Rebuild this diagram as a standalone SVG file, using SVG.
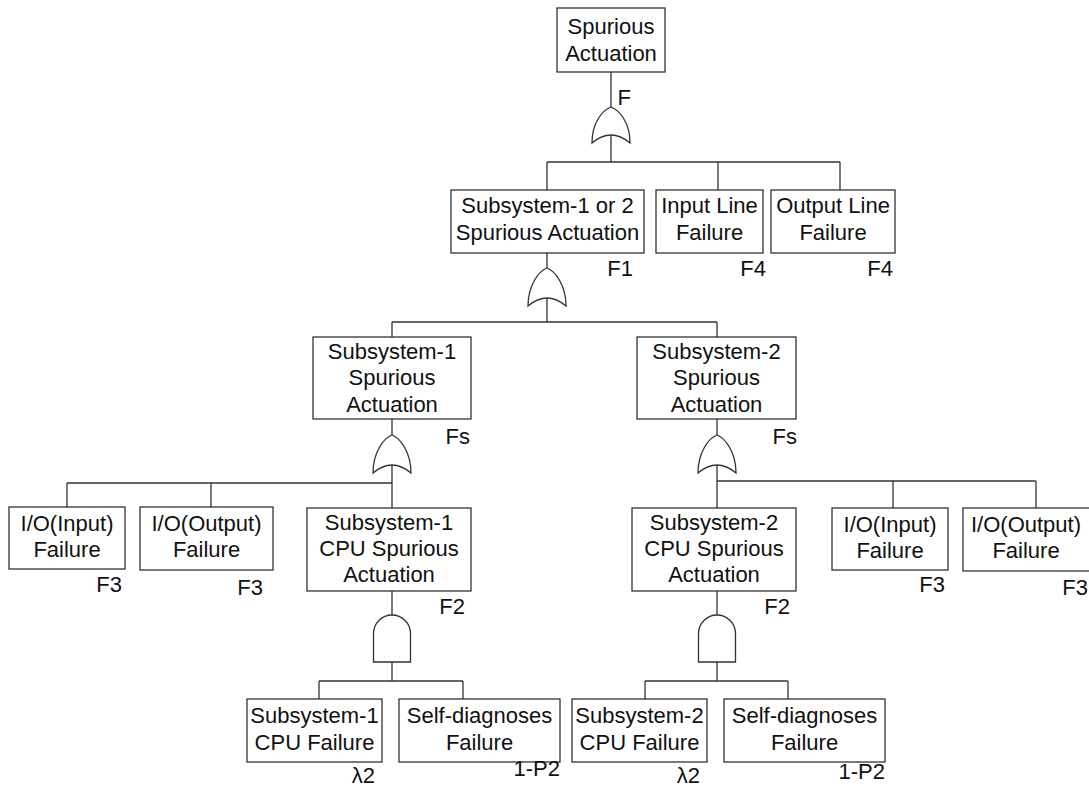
<svg xmlns="http://www.w3.org/2000/svg" width="1089" height="788" viewBox="0 0 1089 788">
<defs>
<style>
.box{fill:#fff;stroke:#333;stroke-width:1.3}
.gate{fill:#fff;stroke:#333;stroke-width:1.3}
.t{font-family:"Liberation Sans",Arial,sans-serif;font-size:22px;fill:#111;text-anchor:middle}
.l{font-family:"Liberation Sans",Arial,sans-serif;font-size:22px;fill:#111;text-anchor:end}
#connectors path{fill:none;stroke:#333;stroke-width:1.3}
</style>
</defs>
<rect width="1089" height="788" fill="#fff"/>
<g id="connectors">
<path d="M611,72V107M611,135V162M547,162H840M547,162V190M718,162V190M840,162V190"/>
<path d="M547,253V268M547,298V322M392,322H717M392,322V337M717,322V337"/>
<path d="M392,419V435M392,465V508M67,483H392M67,483V507M211,483V507"/>
<path d="M717,419V435M717,465V508M717,481H1036M893,481V508M1036,481V508"/>
<path d="M392,591V615M392,662V681M319,681H463M319,681V699M463,681V699"/>
<path d="M717,591V615M717,662V681M645,681H788M645,681V699M788,681V699"/>
</g>
<g id="gate-or-top"><path class="gate" d="M592,143C592,122 603,110 611,107C619,110 630,122 630,143Q611,127 592,143Z"/></g>
<g id="gate-or-f1"><path class="gate" d="M528,306C528,285 539,271 547,268C555,271 566,285 566,306Q547,290 528,306Z"/></g>
<g id="gate-or-s1"><path class="gate" d="M373,473C373,452 384,438 392,435C400,438 411,452 411,473Q392,457 373,473Z"/></g>
<g id="gate-or-s2"><path class="gate" d="M698,473C698,452 709,438 717,435C725,438 736,452 736,473Q717,457 698,473Z"/></g>
<g id="gate-and-s1"><path class="gate" d="M373.5,662V633.5A18.5,18.5 0 0 1 410.5,633.5V662Z"/></g>
<g id="gate-and-s2"><path class="gate" d="M698.5,662V633.5A18.5,18.5 0 0 1 735.5,633.5V662Z"/></g>
<g id="top">
<rect class="box" x="557" y="8" width="108" height="64"/>
<text class="t" x="611" y="34">Spurious</text>
<text class="t" x="611" y="61">Actuation</text>
<text class="l" x="631" y="105">F</text>
</g>
<g id="f1">
<rect class="box" x="451" y="190" width="193" height="63"/>
<text class="t" x="547.5" y="213">Subsystem-1 or 2</text>
<text class="t" x="547.5" y="240">Spurious Actuation</text>
<text class="l" x="633" y="276">F1</text>
</g>
<g id="input-line">
<rect class="box" x="656" y="190" width="107" height="63"/>
<text class="t" x="709.5" y="213">Input Line</text>
<text class="t" x="709.5" y="240">Failure</text>
<text class="l" x="766" y="276">F4</text>
</g>
<g id="output-line">
<rect class="box" x="771" y="190" width="124" height="63"/>
<text class="t" x="833" y="213">Output Line</text>
<text class="t" x="833" y="240">Failure</text>
<text class="l" x="893" y="276">F4</text>
</g>
<g id="s1">
<rect class="box" x="313" y="337" width="158" height="82"/>
<text class="t" x="392" y="359">Subsystem-1</text>
<text class="t" x="392" y="385">Spurious</text>
<text class="t" x="392" y="412">Actuation</text>
<text class="l" x="470" y="444">Fs</text>
</g>
<g id="s2">
<rect class="box" x="637" y="337" width="159" height="82"/>
<text class="t" x="716.5" y="359">Subsystem-2</text>
<text class="t" x="716.5" y="385">Spurious</text>
<text class="t" x="716.5" y="412">Actuation</text>
<text class="l" x="797" y="444">Fs</text>
</g>
<g id="s1-io-in">
<rect class="box" x="9" y="507" width="116" height="62"/>
<text class="t" x="67" y="531">I/O(Input)</text>
<text class="t" x="67" y="557">Failure</text>
<text class="l" x="122" y="592">F3</text>
</g>
<g id="s1-io-out">
<rect class="box" x="140" y="507" width="133" height="63"/>
<text class="t" x="206.5" y="531">I/O(Output)</text>
<text class="t" x="206.5" y="557">Failure</text>
<text class="l" x="263" y="595">F3</text>
</g>
<g id="s1-cpu">
<rect class="box" x="307" y="508" width="164" height="83"/>
<text class="t" x="389" y="530">Subsystem-1</text>
<text class="t" x="389" y="556">CPU Spurious</text>
<text class="t" x="389" y="582">Actuation</text>
<text class="l" x="465" y="614">F2</text>
</g>
<g id="s2-cpu">
<rect class="box" x="632" y="508" width="164" height="83"/>
<text class="t" x="714" y="530">Subsystem-2</text>
<text class="t" x="714" y="556">CPU Spurious</text>
<text class="t" x="714" y="582">Actuation</text>
<text class="l" x="790" y="614">F2</text>
</g>
<g id="s2-io-in">
<rect class="box" x="832" y="508" width="116" height="62"/>
<text class="t" x="890" y="532">I/O(Input)</text>
<text class="t" x="890" y="558">Failure</text>
<text class="l" x="945" y="592">F3</text>
</g>
<g id="s2-io-out">
<rect class="box" x="963" y="508" width="133" height="63"/>
<text class="t" x="1026" y="532">I/O(Output)</text>
<text class="t" x="1026" y="558">Failure</text>
<text class="l" x="1088" y="595">F3</text>
</g>
<g id="s1-cpu-fail">
<rect class="box" x="247" y="699" width="135" height="63"/>
<text class="t" x="314.5" y="723">Subsystem-1</text>
<text class="t" x="314.5" y="750">CPU Failure</text>
<text class="l" x="375" y="783">λ2</text>
</g>
<g id="s1-self">
<rect class="box" x="399" y="699" width="161" height="63"/>
<text class="t" x="479.5" y="723">Self-diagnoses</text>
<text class="t" x="479.5" y="750">Failure</text>
<text class="l" x="560" y="776">1-P2</text>
</g>
<g id="s2-cpu-fail">
<rect class="box" x="572" y="699" width="135" height="63"/>
<text class="t" x="639.5" y="723">Subsystem-2</text>
<text class="t" x="639.5" y="750">CPU Failure</text>
<text class="l" x="700" y="783">λ2</text>
</g>
<g id="s2-self">
<rect class="box" x="724" y="699" width="161" height="63"/>
<text class="t" x="804.5" y="723">Self-diagnoses</text>
<text class="t" x="804.5" y="750">Failure</text>
<text class="l" x="885" y="779">1-P2</text>
</g>
</svg>
